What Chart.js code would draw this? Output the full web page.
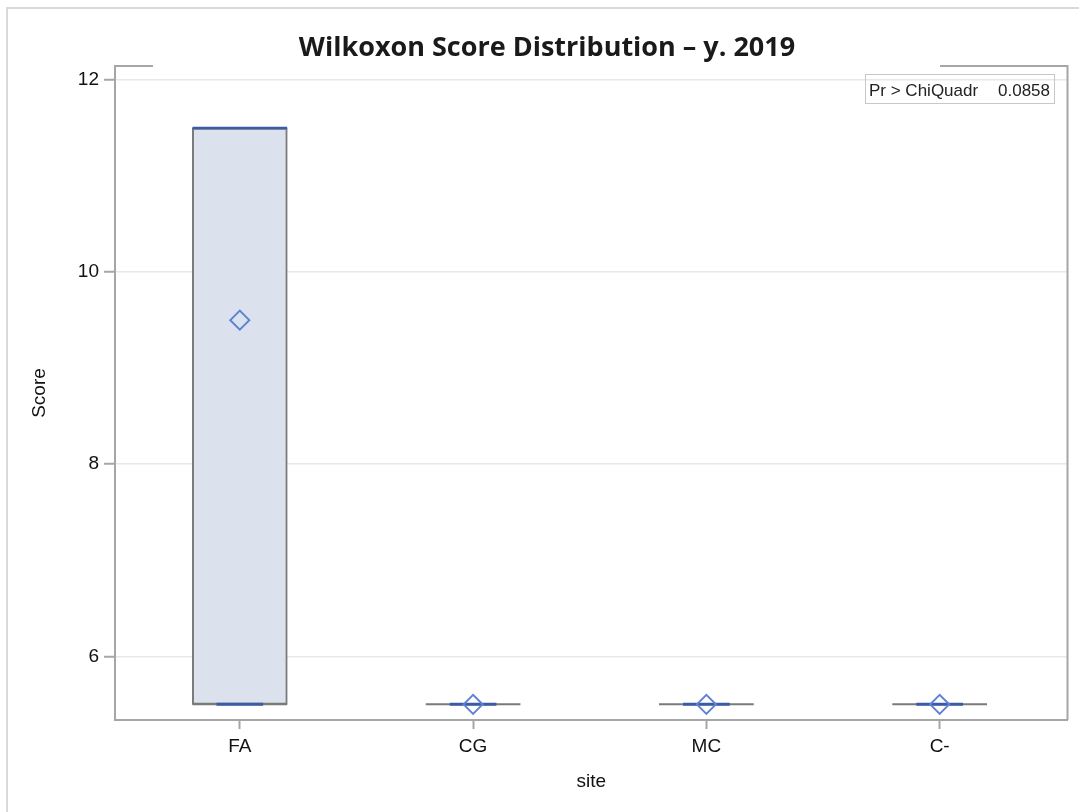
<!DOCTYPE html>
<html>
<head>
<meta charset="utf-8">
<script src="https://cdn.jsdelivr.net/npm/chart.js@4.4.1/dist/chart.umd.min.js"></script>
<style>
  html, body { margin: 0; padding: 0; background: #fff; }
  #moldura { position: absolute; left: 6px; top: 7px; width: 1100px; height: 820px;
             border-left: 2px solid #d9d9d9; border-top: 2px solid #d9d9d9; }
  #grafico { position: absolute; left: 0; top: 0; }
</style>
</head>
<body>
<div id="moldura"></div>
<canvas id="grafico" width="1079" height="812"></canvas>
<script>
// dados dos boxplots por site
var sites = ['FA', 'CG', 'MC', 'C-'];
var q1 = [5.5, 5.5, 5.5, 5.5];
var mediana = [5.5, 5.5, 5.5, 5.5];
var q3 = [11.5, 5.5, 5.5, 5.5];
var maximo = [11.5, 5.5, 5.5, 5.5];
var media = [9.5, 5.5, 5.5, 5.5];
var ticksY = [6, 8, 10, 12];
var titulo = 'Wilkoxon Score Distribution \u2013 y. 2019';
var pRotulo = 'Pr > ChiQuadr';
var pValor = '0.0858';

var cinza = '#7a7a7a';
var azul = '#3b5ba6';
var azulMedia = '#5f82d3';
var fonte = '"Liberation Sans", Arial, sans-serif';

// monta os segmentos horizontais (um por site) com quebra entre eles
function segmentos(valores, meia, filtro) {
  var pts = [];
  for (var i = 0; i < sites.length; i++) {
    if (filtro && !filtro(i)) continue;
    pts.push({ x: i - meia, y: valores[i] });
    pts.push({ x: i + meia, y: valores[i] });
    pts.push({ x: i + meia, y: null });
  }
  return pts;
}

// titulo, moldura do grafico e quadro do p-valor
var extras = {
  id: 'extras',
  afterDraw: function (chart) {
    var ctx = chart.ctx;
    var a = chart.chartArea;
    ctx.save();
    ctx.strokeStyle = '#a6a6a6';
    ctx.lineWidth = 2;
    ctx.beginPath();
    ctx.moveTo(a.left, a.top); ctx.lineTo(153, a.top);
    ctx.moveTo(940, a.top); ctx.lineTo(a.right, a.top);
    ctx.lineTo(a.right, a.bottom);
    ctx.stroke();

    ctx.fillStyle = '#1a1a1a';
    ctx.font = 'bold 27px "Open Sans", Lato, sans-serif';
    ctx.textAlign = 'center';
    ctx.textBaseline = 'alphabetic';
    ctx.fillText(titulo, 547, 56);

    ctx.strokeStyle = '#c8c8c8';
    ctx.lineWidth = 1;
    ctx.strokeRect(865.5, 74.5, 189, 29);
    ctx.fillStyle = '#222';
    ctx.font = '17px ' + fonte;
    ctx.textAlign = 'left';
    ctx.fillText(pRotulo, 869, 96);
    ctx.textAlign = 'right';
    ctx.fillText(pValor, 1050, 96);
    ctx.restore();
  }
};

var caixas = sites.map(function (s, i) { return { x: i, y: [q1[i], q3[i]] }; });
var medias = sites.map(function (s, i) { return { x: i, y: media[i] }; });

var ctx = document.getElementById('grafico').getContext('2d');
var chart = new Chart(ctx, {
  type: 'bar',
  data: {
    datasets: [
      {
        label: 'caixa',
        data: caixas,
        backgroundColor: '#dbe2ee',
        borderColor: cinza,
        borderWidth: 2,
        borderSkipped: false,
        barThickness: 95,
        order: 5
      },
      {
        type: 'line',
        label: 'q1',
        data: segmentos(q1, 0.203),
        borderColor: cinza,
        borderWidth: 2,
        pointRadius: 0,
        spanGaps: false,
        order: 4
      },
      {
        type: 'line',
        label: 'mediana',
        data: segmentos(mediana, 0.1),
        borderColor: azul,
        borderWidth: 3,
        pointRadius: 0,
        spanGaps: false,
        order: 3
      },
      {
        type: 'line',
        label: 'maximo',
        data: segmentos(maximo, 0.203, function (i) { return maximo[i] > mediana[i]; }),
        borderColor: azul,
        borderWidth: 2.5,
        pointRadius: 0,
        spanGaps: false,
        order: 2
      },
      {
        type: 'line',
        label: 'media',
        data: medias,
        showLine: false,
        pointStyle: 'rectRot',
        pointRadius: 9.5,
        pointBorderWidth: 2,
        pointBorderColor: azulMedia,
        pointBackgroundColor: 'rgba(0,0,0,0)',
        order: 1
      }
    ]
  },
  options: {
    responsive: false,
    animation: false,
    layout: { padding: { top: 66, right: 11, left: 0, bottom: 0 } },
    plugins: {
      legend: { display: false },
      tooltip: { enabled: false }
    },
    scales: {
      x: {
        type: 'linear',
        offset: false,
        min: -0.535,
        max: 3.548,
        afterFit: function (s) { s.height = 92; },
        afterBuildTicks: function (s) { s.ticks = sites.map(function (n, i) { return { value: i }; }); },
        grid: { offset: false, drawOnChartArea: false, tickLength: 9, tickColor: '#a6a6a6', tickWidth: 2 },
        border: { color: '#a6a6a6', width: 2 },
        ticks: {
          padding: 6,
          color: '#111',
          font: { family: fonte, size: 19 },
          callback: function (v) { return sites[v]; }
        },
        title: {
          display: true,
          text: 'site',
          color: '#111',
          font: { family: fonte, size: 19 },
          padding: { top: 0, bottom: 19 }
        }
      },
      y: {
        min: 5.337,
        max: 12.146,
        afterFit: function (s) { s.width = 115; },
        afterBuildTicks: function (s) { s.ticks = ticksY.map(function (v) { return { value: v }; }); },
        grid: { color: '#e8e8e8', lineWidth: 1.5, tickLength: 11, tickColor: '#a6a6a6', tickWidth: 2 },
        border: { color: '#a6a6a6', width: 2 },
        ticks: {
          padding: 5,
          color: '#111',
          font: { family: fonte, size: 19 }
        },
        title: {
          display: true,
          text: 'Score',
          color: '#111',
          font: { family: fonte, size: 19 },
          padding: { top: 28, bottom: 0 }
        }
      }
    }
  },
  plugins: [extras]
});
</script>
</body>
</html>
